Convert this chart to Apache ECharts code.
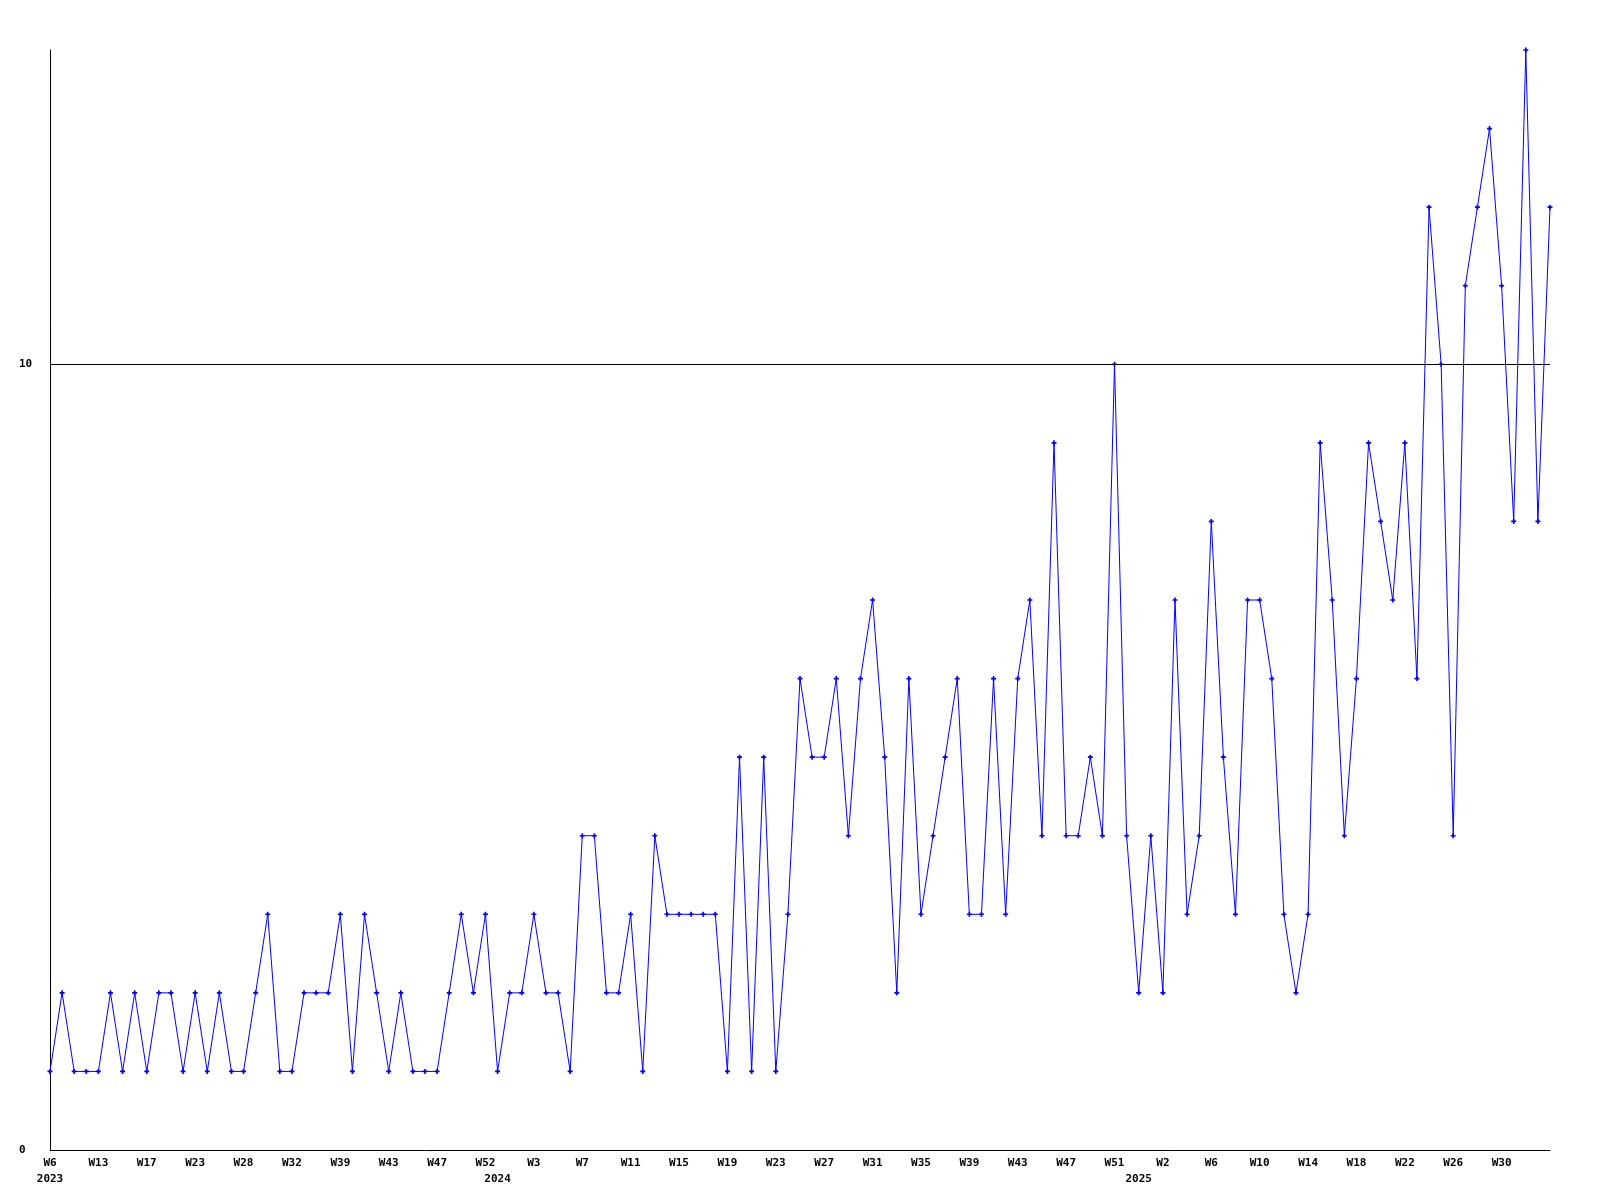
<!DOCTYPE html>
<html>
<head>
<meta charset="utf-8">
<style>
html,body{margin:0;padding:0;background:#fff;}
#chart{width:1600px;height:1200px;}
</style>
<script src="https://cdn.jsdelivr.net/npm/echarts@6/dist/echarts.min.js"></script>
</head>
<body>
<div id="chart"></div>
<script>
// Week numbers present in the data, per year
const weeks2023 = [6, 8, 10, 11, 13, 14, 15, 16, 17, 18, 20, 21, 23, 24, 25, 27, 28, 29, 30, 31, 32, 34, 36, 37, 39, 40, 41, 42, 43, 44, 45, 46, 47, 48, 50, 51, 52];
const weeks2024 = [0, 1, 2, 3, 4, 5, 6, 7, 8, 9, 10, 11, 12, 13, 14, 15, 16, 17, 18, 19, 20, 21, 22, 23, 24, 25, 26, 27, 28, 29, 30, 31, 32, 33, 34, 35, 36, 37, 38, 39, 40, 41, 42, 43, 44, 45, 46, 47, 48, 49, 50, 51, 52];
const weeks2025 = [0, 1, 2, 3, 4, 5, 6, 7, 8, 9, 10, 11, 12, 13, 14, 15, 16, 17, 18, 19, 20, 21, 22, 23, 24, 25, 26, 27, 28, 29, 30, 31, 32, 33, 34];

// Weekly counts
const counts = [
  1,2,1,1,1,2,1,2,1,2,2,1,2,1,2,1,1,2,3,1,1,2,2,2,3,1,3,2,1,2,1,1,1,2,3,2,3,1,2,2,3,
  2,2,1,4,4,2,2,3,1,4,3,3,3,3,3,1,5,1,5,1,3,6,5,5,6,4,6,7,5,2,6,3,4,5,6,3,3,6,3,6,7,4,9,4,
  4,5,4,10,4,2,4,2,7,3,4,8,5,3,7,7,6,3,2,3,9,7,4,6,9,8,7,9,6,12,10,4,11,12,13,11,8,14,8,12
];

const yTickLabels = [0, 10];
const referenceLine = 10;

const categories = [];
const yearStart = {};
[[2023, weeks2023], [2024, weeks2024], [2025, weeks2025]].forEach(([yr, wks]) => {
  yearStart[categories.length] = String(yr);
  wks.forEach(w => categories.push(yr + '-W' + w));
});

const font = {fontFamily: 'DejaVu Sans Mono', fontWeight: 'bold', fontSize: 11, color: '#000'};

const chart = echarts.init(document.getElementById('chart'), null, {renderer: 'canvas'});
chart.setOption({
  animation: false,
  backgroundColor: '#fff',
  grid: {left: 50, right: 50, top: 50, bottom: 50, containLabel: false},
  xAxis: [{
    type: 'category',
    data: categories,
    boundaryGap: false,
    axisLine: {show: true, lineStyle: {color: '#000', width: 1}},
    axisTick: {show: false},
    splitLine: {show: false},
    axisLabel: Object.assign({
      interval: 3,
      showMaxLabel: false,
      hideOverlap: false,
      margin: 8,
      formatter: v => v.split('-')[1]
    }, font)
  }, {
    type: 'category',
    data: categories,
    boundaryGap: false,
    position: 'bottom',
    offset: 16,
    axisLine: {show: false},
    axisTick: {show: false},
    splitLine: {show: false},
    axisLabel: Object.assign({
      interval: 0,
      hideOverlap: false,
      margin: 8,
      formatter: (v) => {
        const i = categories.indexOf(v);
        return yearStart[i] !== undefined ? yearStart[i] : '';
      }
    }, font)
  }],
  yAxis: {
    type: 'value',
    min: 0,
    max: 14,
    interval: 10,
    axisLine: {show: true, lineStyle: {color: '#000', width: 1}},
    axisTick: {show: false},
    splitLine: {show: false},
    axisLabel: Object.assign({
      align: 'left',
      margin: 31,
      showMaxLabel: false,
      formatter: v => (yTickLabels.indexOf(v) >= 0 ? String(v) : '')
    }, font)
  },
  series: [{
    type: 'line',
    xAxisIndex: 0,
    data: counts,
    symbol: 'path://M1,0H2V1H3V2H2V3H1V2H0V1H1Z',
    symbolSize: 5,
    showAllSymbol: true,
    itemStyle: {color: '#0000ff'},
    lineStyle: {color: '#0000ff', width: 1},
    markLine: {
      silent: true,
      symbol: 'none',
      label: {show: false},
      lineStyle: {color: '#000', width: 1, type: 'solid'},
      data: [{yAxis: referenceLine}]
    },
    z: 3
  }]
});
</script>
</body>
</html>
